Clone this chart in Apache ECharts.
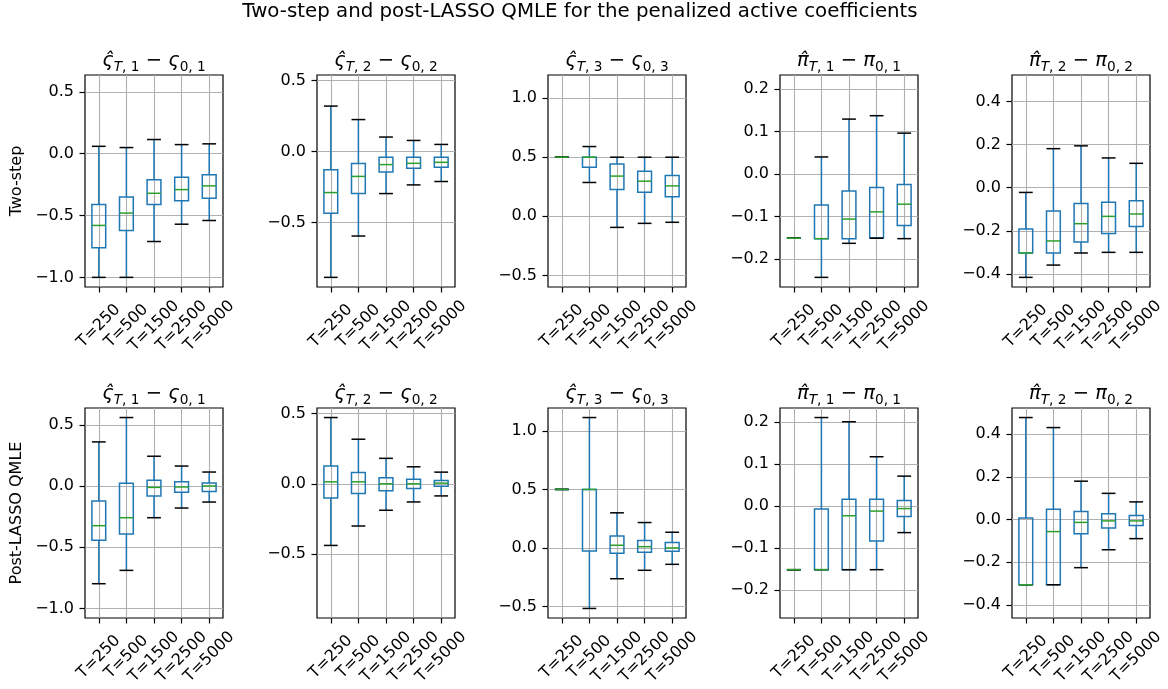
<!DOCTYPE html>
<html>
<head>
<meta charset="utf-8">
<script src="https://cdn.jsdelivr.net/npm/echarts@6/dist/echarts.min.js"></script>
<style>
  html, body { margin: 0; padding: 0; background: #fff; }
  #main { width: 1168px; height: 689px; }
</style>
</head>
<body>
<div id="main"></div>
<script>
// sample sizes on the x axis
var categories = ["T=250", "T=500", "T=1500", "T=2500", "T=5000"];

// each row: [lower whisker, Q1, median, Q3, upper whisker], one row per T
var twoStepS1 = [[-1.00, -0.76, -0.58, -0.41, 0.06], [-1.00, -0.62, -0.48, -0.35, 0.05], [-0.71, -0.41, -0.32, -0.21, 0.115], [-0.57, -0.38, -0.29, -0.19, 0.074], [-0.54, -0.36, -0.26, -0.17, 0.08]];
var twoStepS2 = [[-0.886, -0.434, -0.289, -0.128, 0.32], [-0.595, -0.296, -0.175, -0.085, 0.225], [-0.296, -0.145, -0.092, -0.04, 0.102], [-0.235, -0.118, -0.083, -0.04, 0.078], [-0.211, -0.111, -0.076, -0.04, 0.05]];
var twoStepS3 = [[0.5, 0.5, 0.5, 0.5, 0.5], [0.286, 0.414, 0.5, 0.5, 0.59], [-0.094, 0.226, 0.34, 0.443, 0.5], [-0.06, 0.203, 0.297, 0.38, 0.5], [-0.051, 0.166, 0.257, 0.346, 0.5]];
var twoStepP1 = [[-0.151, -0.151, -0.151, -0.151, -0.151], [-0.243, -0.152, -0.152, -0.073, 0.04], [-0.163, -0.152, -0.106, -0.04, 0.129], [-0.151, -0.15, -0.089, -0.032, 0.137], [-0.152, -0.121, -0.071, -0.025, 0.096]];
var twoStepP2 = [[-0.416, -0.303, -0.303, -0.192, -0.022], [-0.359, -0.303, -0.247, -0.108, 0.181], [-0.303, -0.252, -0.167, -0.073, 0.194], [-0.30, -0.212, -0.133, -0.067, 0.138], [-0.30, -0.18, -0.122, -0.061, 0.113]];

var postS1 = [[-0.798, -0.444, -0.324, -0.123, 0.36], [-0.689, -0.392, -0.259, 0.022, 0.559], [-0.259, -0.082, -0.011, 0.046, 0.243], [-0.18, -0.052, -0.008, 0.035, 0.163], [-0.131, -0.044, 0.0, 0.025, 0.114]];
var postS2 = [[-0.438, -0.10, 0.014, 0.126, 0.471], [-0.30, -0.069, 0.014, 0.081, 0.317], [-0.188, -0.05, 0.0, 0.043, 0.181], [-0.129, -0.033, 0.0, 0.033, 0.121], [-0.086, -0.017, 0.005, 0.024, 0.083]];
var postS3 = [[0.5, 0.5, 0.5, 0.5, 0.5], [-0.517, -0.026, 0.5, 0.5, 1.114], [-0.263, -0.046, 0.023, 0.103, 0.30], [-0.191, -0.037, 0.011, 0.063, 0.217], [-0.14, -0.029, 0.0, 0.046, 0.134]];
var postP1 = [[-0.151, -0.151, -0.151, -0.151, -0.151], [-0.151, -0.151, -0.151, -0.007, 0.21], [-0.151, -0.151, -0.023, 0.016, 0.20], [-0.151, -0.083, -0.012, 0.016, 0.117], [-0.063, -0.025, -0.006, 0.013, 0.071]];
var postP2 = [[-0.305, -0.305, -0.305, 0.008, 0.478], [-0.305, -0.305, -0.056, 0.048, 0.431], [-0.225, -0.066, -0.013, 0.038, 0.18], [-0.141, -0.039, -0.006, 0.027, 0.123], [-0.089, -0.027, -0.006, 0.019, 0.083]];

// y tick labels, one list per column
var ticksCol1 = [-1.0, -0.5, 0.0, 0.5];
var ticksCol2 = [-0.5, 0.0, 0.5];
var ticksCol3 = [-0.5, 0.0, 0.5, 1.0];
var ticksCol4 = [-0.2, -0.1, 0.0, 0.1, 0.2];
var ticksCol5 = [-0.4, -0.2, 0.0, 0.2, 0.4];

var rowNames = ["Two-step", "Post-LASSO QMLE"];
var mainTitle = "Two-step and post-LASSO QMLE for the penalized active coefficients";

var panels = [
  [twoStepS1, twoStepS2, twoStepS3, twoStepP1, twoStepP2],
  [postS1, postS2, postS3, postP1, postP2]
];
var colTicks = [ticksCol1, ticksCol2, ticksCol3, ticksCol4, ticksCol5];
// subplot titles as rich text: symbol with hat, subscripts
var colTitles = [
  ["\u03C2\u0302", "1", "\u03C2"],
  ["\u03C2\u0302", "2", "\u03C2"],
  ["\u03C2\u0302", "3", "\u03C2"],
  ["\u03C0\u0302", "1", "\u03C0"],
  ["\u03C0\u0302", "2", "\u03C0"]
];

var FONT = "DejaVu Sans";
var gridLeft = [85, 317, 548, 780, 1012];
var gridTop = [75, 408];
var gridH = [212, 210];
var gridW = 138;

function fmtTick(v) {
  var r = Math.round(v * 10) / 10;
  if (Math.abs(r) < 1e-9) return "0.0";
  return (r < 0 ? "\u2212" : "") + Math.abs(r).toFixed(1);
}

function renderBox(params, api) {
  var x = api.value(0);
  var lo = api.coord([x, api.value(1)]);
  var q1 = api.coord([x, api.value(2)]);
  var md = api.coord([x, api.value(3)]);
  var q3 = api.coord([x, api.value(4)]);
  var hi = api.coord([x, api.value(5)]);
  var band = api.size([1, 0])[0];
  var bw = band * 0.5, cw = band * 0.25;
  var cx = lo[0];
  var blue = { stroke: "#1f77b4", lineWidth: 1.5, fill: null };
  var black = { stroke: "#000", lineWidth: 1.5 };
  return {
    type: "group",
    children: [
      { type: "line", shape: { x1: cx, y1: q1[1], x2: cx, y2: lo[1] }, style: blue },
      { type: "line", shape: { x1: cx, y1: q3[1], x2: cx, y2: hi[1] }, style: blue },
      { type: "rect", shape: { x: cx - bw / 2, y: q3[1], width: bw, height: q1[1] - q3[1] }, style: blue },
      { type: "line", shape: { x1: cx - cw, y1: lo[1], x2: cx + cw, y2: lo[1] }, style: black },
      { type: "line", shape: { x1: cx - cw, y1: hi[1], x2: cx + cw, y2: hi[1] }, style: black },
      { type: "line", shape: { x1: cx - bw / 2, y1: md[1], x2: cx + bw / 2, y2: md[1] }, style: { stroke: "#2ca02c", lineWidth: 1.5 } }
    ]
  };
}

var titleRich = {
  m: { fontFamily: FONT, fontSize: 19.5, fontStyle: "italic", fontWeight: "normal", lineHeight: 24, color: "#000" },
  o: { fontFamily: FONT, fontSize: 19.5, fontWeight: "normal", lineHeight: 24, color: "#000" },
  si: { fontFamily: FONT, fontSize: 13.7, fontStyle: "italic", fontWeight: "normal", lineHeight: 12, padding: [12, 0, 0, 0], color: "#000" },
  s: { fontFamily: FONT, fontSize: 13.7, fontWeight: "normal", lineHeight: 12, padding: [12, 0, 0, 0], color: "#000" }
};

var option = {
  animation: false,
  backgroundColor: "#fff",
  title: [{
    text: mainTitle, left: 580, top: 0, textAlign: "center", padding: 0,
    textStyle: { fontFamily: FONT, fontSize: 19.8, fontWeight: "normal", color: "#000", lineHeight: 24 }
  }],
  grid: [], xAxis: [], yAxis: [], series: []
};

for (var r = 0; r < 2; r++) {
  for (var c = 0; c < 5; c++) {
    var k = r * 5 + c;
    // shared y-range per column, 5% margin like matplotlib autoscale
    var all = panels[0][c].concat(panels[1][c]);
    var lo = Infinity, hi = -Infinity;
    all.forEach(function (row) { lo = Math.min(lo, row[0]); hi = Math.max(hi, row[4]); });
    var pad = (hi - lo) * 0.05;

    option.grid.push({
      left: gridLeft[c], top: gridTop[r], width: gridW, height: gridH[r],
      show: true, borderColor: "#000", borderWidth: 1.2, backgroundColor: "transparent"
    });
    var t = colTitles[c];
    option.title.push({
      text: "{m|" + t[0] + "}{si|T}{s|, " + t[1] + "}{o| \u2212 }{m|" + t[2] + "}{s|0, " + t[1] + "}",
      left: gridLeft[c] + gridW / 2, top: gridTop[r] - 26, textAlign: "center", padding: 0,
      textStyle: { fontWeight: "normal", rich: titleRich }
    });
    option.xAxis.push({
      type: "category", gridIndex: k, data: categories, boundaryGap: true,
      axisLine: { show: false, onZero: false },
      axisTick: { show: true, alignWithLabel: true, length: 5.5, lineStyle: { color: "#000", width: 1.2 } },
      splitLine: { show: true, alignWithLabel: true, lineStyle: { color: "#b0b0b0", width: 1.1 } },
      axisLabel: {
        interval: 0, rotate: 45, align: "center", verticalAlign: "middle", margin: 39,
        fontFamily: FONT, fontSize: 16, color: "#000"
      }
    });
    option.yAxis.push({
      type: "value", gridIndex: k, min: lo - pad, max: hi + pad,
      name: c === 0 ? rowNames[r] : "", nameLocation: "middle", nameRotate: 90, nameGap: 60,
      nameTextStyle: { fontFamily: FONT, fontSize: 16, color: "#000" },
      axisLine: { show: false, onZero: false },
      axisTick: { show: true, customValues: colTicks[c], length: 5.5, lineStyle: { color: "#000", width: 1.2 } },
      splitLine: { show: true, lineStyle: { color: "#b0b0b0", width: 1.1 } },
      axisLabel: {
        customValues: colTicks[c], formatter: fmtTick, margin: 11,
        fontFamily: FONT, fontSize: 16, color: "#000"
      }
    });
    option.series.push({
      type: "custom", xAxisIndex: k, yAxisIndex: k,
      renderItem: renderBox,
      encode: { x: 0, y: [1, 2, 3, 4, 5] },
      data: panels[r][c].map(function (row, i) { return [i].concat(row); })
    });
  }
}

var chart = echarts.init(document.getElementById("main"));
chart.setOption(option);
</script>
</body>
</html>
